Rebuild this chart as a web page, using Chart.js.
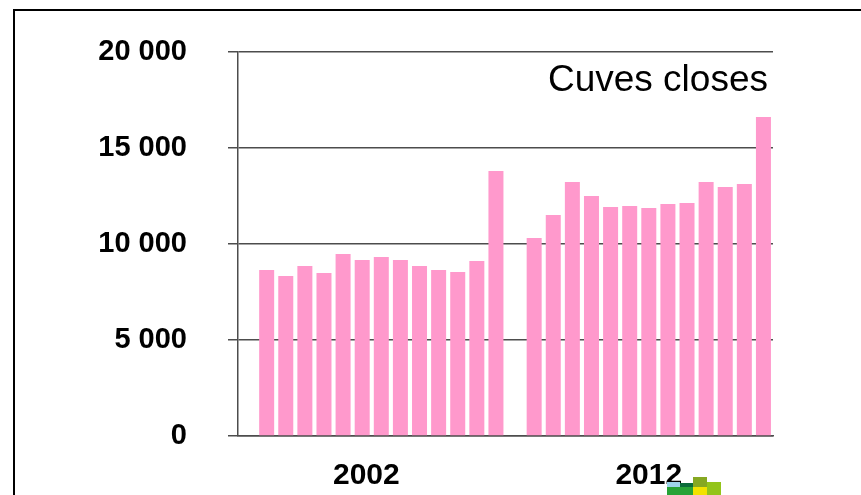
<!DOCTYPE html>
<html>
<head>
<meta charset="utf-8">
<script src="https://cdn.jsdelivr.net/npm/chart.js@4"></script>
<style>
    html, body { margin: 0; padding: 0; background: #fff; overflow: hidden; }
    #wrap { position: relative; width: 861px; height: 495px; }
    #frame {
        position: absolute; left: 13px; top: 9px; width: 900px; height: 600px;
        border-left: 2px solid #000; border-top: 2px solid #000;
    }
    #cuves {
        position: absolute; right: 93px; top: 60px;
        font-family: "Liberation Sans", Arial, sans-serif;
        font-size: 37px; line-height: 37px; color: #000; white-space: nowrap;
    }
    canvas { position: absolute; left: 0; top: 0; }
</style>
</head>
<body>
<div id="wrap">
    <div id="frame"></div>
    <canvas id="cuvesChart" width="861" height="495"></canvas>
    <div id="cuves">Cuves closes</div>
</div>
<script>
// one slot per bar, empty slots before and between the two periods
const categories = ['', '', '', '', '', '', ' 2002', '', '', '', '', '', '', '',
                    '', '', '', '', '', '', '', '2012', '', '', '', '', '', ''];
const series2002 = [8650, 8330, 8850, 8490, 9480, 9170, 9320, 9170, 8850, 8650, 8540, 9120, 13800];
const series2012 = [10310, 11510, 13230, 12500, 11930, 11980, 11880, 12080, 12140, 13230, 12970, 13130, 16620];
const yTicks = [0, 5000, 10000, 15000, 20000];

const values = [null, ...series2002, null, ...series2012];

const font = 'Liberation Sans, Arial, sans-serif';
const gridColor = '#4d4d4d';

function formatThousands(v) {
    return String(v).replace(/\B(?=(\d{3})+(?!\d))/g, ' ');
}

// small square logo under the axis
const logoPlugin = {
    id: 'logo',
    afterDraw(chart) {
        const ctx = chart.ctx;
        const blocks = [
            ['#9ed4ea', 667, 482, 13, 5],
            ['#0b6b3a', 680, 483, 13, 4],
            ['#86a822', 693, 477, 14, 10],
            ['#93c41a', 707, 482, 14, 13],
            ['#27a336', 667, 487, 26, 8],
            ['#f2e200', 693, 487, 14, 8]
        ];
        ctx.save();
        blocks.forEach(([c, x, y, w, h]) => {
            ctx.fillStyle = c;
            ctx.fillRect(x, y, w, h);
        });
        ctx.restore();
    }
};

new Chart(document.getElementById('cuvesChart'), {
    type: 'bar',
    data: {
        labels: categories,
        datasets: [{
            data: values,
            backgroundColor: '#ff99cc',
            borderWidth: 0,
            barPercentage: 0.785,
            categoryPercentage: 1
        }]
    },
    options: {
        responsive: false,
        animation: false,
        devicePixelRatio: 1,
        layout: { padding: { left: 0, right: 88, top: 52, bottom: 0 } },
        plugins: {
            legend: { display: false },
            tooltip: { enabled: false }
        },
        scales: {
            x: {
                grid: { display: false },
                border: { display: true, color: gridColor, width: 1.5 },
                ticks: {
                    autoSkip: false,
                    maxRotation: 0,
                    padding: 14,
                    color: '#000',
                    font: { family: font, size: 30, weight: 'bold' }
                },
                afterFit: s => { s.height = 59; }
            },
            y: {
                min: 0,
                max: 20000,
                afterBuildTicks: s => { s.ticks = yTicks.map(v => ({ value: v })); },
                grid: { color: gridColor, lineWidth: 1.5, tickLength: 10, drawTicks: true },
                border: { display: true, color: gridColor, width: 1.5 },
                ticks: {
                    padding: 41,
                    color: '#000',
                    font: { family: font, size: 29, weight: 'bold' },
                    callback: v => formatThousands(v)
                },
                // the wide label gap should not push the plot down
                afterFit: s => {
                    s.width = 238;
                    s.paddingTop = 0;
                    s.paddingBottom = 0;
                }
            }
        }
    },
    plugins: [logoPlugin]
});
</script>
</body>
</html>
